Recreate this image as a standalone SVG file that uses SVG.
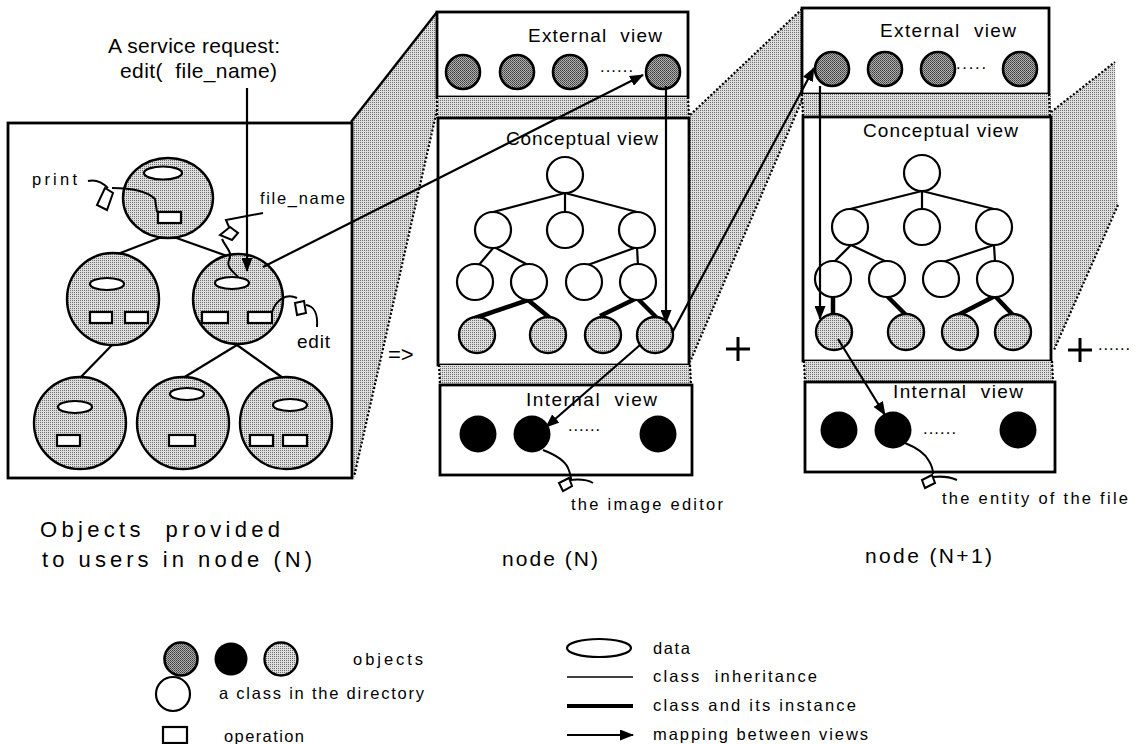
<svg xmlns="http://www.w3.org/2000/svg" width="1138" height="744" viewBox="0 0 1138 744">
  <defs>
    <!-- light halftone used for bands, projections and object fills -->
    <pattern id="stip" patternUnits="userSpaceOnUse" width="2" height="2">
      <rect width="2" height="2" fill="#dedede"/>
      <rect width="1" height="1" fill="#6e6e6e"/>
    </pattern>
    <!-- denser halftone for externally visible objects -->
    <pattern id="stipDark" patternUnits="userSpaceOnUse" width="2" height="2">
      <rect width="2" height="2" fill="#b0b0b0"/>
      <rect width="1" height="1" fill="#3a3a3a"/>
      <rect x="1" y="1" width="1" height="1" fill="#5a5a5a"/>
    </pattern>
    <marker id="ah" markerUnits="userSpaceOnUse" markerWidth="14" markerHeight="11" refX="13" refY="5.5" orient="auto">
      <path d="M0,0 L14,5.5 L0,11 z" fill="#000"/>
    </marker>
    <style>
      text { font-family: "Liberation Sans", Arial, sans-serif; fill: #000; white-space: pre; }
      .box { fill: #fff; stroke: #000; stroke-width: 2.8; }
      .band { fill: url(#stip); stroke: none; }
      .dash { fill: none; stroke: #000; stroke-width: 2.2; stroke-dasharray: 2 2; }
      .cls { fill: #fff; stroke: #000; stroke-width: 2.2; }
      .inst { fill: url(#stip); stroke: #000; stroke-width: 2.4; }
      .ext { fill: url(#stipDark); stroke: #000; stroke-width: 2.6; }
      .int { fill: #000; }
      .inh { fill: none; stroke: #000; stroke-width: 2.2; }
      .thk { fill: none; stroke: #000; stroke-width: 4.5; }
      .map { fill: none; stroke: #000; stroke-width: 2.2; marker-end: url(#ah); }
      .obj { fill: url(#stip); stroke: #000; stroke-width: 2.4; }
      .data { fill: #fff; stroke: #000; stroke-width: 2.2; }
      .op { fill: #fff; stroke: #000; stroke-width: 2.2; }
      .wire { fill: none; stroke: #000; stroke-width: 2; }
      .tag { fill: #fff; stroke: #000; stroke-width: 2; }
      .t15 { font-size: 16.5px; }
      .t17 { font-size: 19px; }
      .t19 { font-size: 21px; }
      .t20 { font-size: 22px; }
    </style>
  </defs>

  <rect width="1138" height="744" fill="#fff"/>

  <!-- projections between the panels -->
  <g id="projections">
    <polygon class="band" points="351,122 437,12 437,110 354,477"/>
    <line x1="351" y1="122" x2="437" y2="12" stroke="#000" stroke-width="2.4"/>
    <line class="dash" x1="437" y1="110" x2="354" y2="477"/>
    <polygon class="band" points="802,9 689,116 690,362 802,100"/>
    <line class="dash" x1="802" y1="9" x2="689" y2="116"/>
    <line class="dash" x1="802" y1="100" x2="690" y2="362"/>
    <polygon class="band" points="1051,112 1115,62 1118,205 1054,350"/>
    <line class="dash" x1="1051" y1="112" x2="1115" y2="62"/>
    <line class="dash" x1="1118" y1="205" x2="1054" y2="350"/>
  </g>

  <!-- objects offered to users in node (N) -->
  <g id="user-objects">
    <rect class="box" x="8" y="123" width="344" height="355"/>
    <g id="user-links">
      <line class="inh" x1="167" y1="235" x2="110" y2="257"/>
      <line class="inh" x1="168" y1="235" x2="230" y2="257"/>
      <line class="inh" x1="112" y1="345" x2="80" y2="378"/>
      <line class="inh" x1="237" y1="345" x2="183" y2="378"/>
      <line class="inh" x1="237" y1="345" x2="283" y2="378"/>
    </g>
    <g id="obj-top">
      <ellipse class="obj" cx="168" cy="198" rx="45" ry="40"/>
      <ellipse class="data" cx="163" cy="173" rx="19" ry="6.5"/>
      <rect class="op" x="158" y="212" width="23" height="11"/>
    </g>
    <g id="obj-mid-left">
      <circle class="obj" cx="113" cy="299" r="46"/>
      <ellipse class="data" cx="107" cy="284" rx="17" ry="6"/>
      <rect class="op" x="90" y="312" width="22" height="11"/>
      <rect class="op" x="125" y="312" width="23" height="11"/>
    </g>
    <g id="obj-mid-right">
      <circle class="obj" cx="238" cy="299" r="45"/>
      <ellipse class="data" cx="232" cy="283" rx="17" ry="6"/>
      <rect class="op" x="202" y="312" width="26" height="11"/>
      <rect class="op" x="248" y="312" width="24" height="11"/>
    </g>
    <g id="obj-bottom-left">
      <circle class="obj" cx="80" cy="423" r="46"/>
      <ellipse class="data" cx="75" cy="407" rx="17" ry="6"/>
      <rect class="op" x="57" y="435" width="23" height="11"/>
    </g>
    <g id="obj-bottom-mid">
      <circle class="obj" cx="183" cy="423" r="46"/>
      <ellipse class="data" cx="187" cy="394" rx="17" ry="6"/>
      <rect class="op" x="169" y="435" width="26" height="11"/>
    </g>
    <g id="obj-bottom-right">
      <circle class="obj" cx="286" cy="423" r="46"/>
      <ellipse class="data" cx="290" cy="405" rx="17" ry="6"/>
      <rect class="op" x="250" y="435" width="23" height="11"/>
      <rect class="op" x="283" y="435" width="24" height="11"/>
    </g>
    <!-- operation / argument handles -->
    <g id="handles">
      <path class="wire" d="M88,181 C96,179 103,183 108,188"/>
      <polygon class="tag" points="105,188 113,193 107,210 97,205"/>
      <path class="wire" d="M112,188 C126,188 146,190 155,199 L157,212"/>
      <text class="t15" x="32" y="185" textLength="45" lengthAdjust="spacing">print</text>

      <path class="wire" d="M263,213 L226,220 L229,227"/>
      <polygon class="tag" points="220,235 230,227 238,233 232,240"/>
      <path class="wire" d="M222,239 C226,248 233,252 229,260 C226,268 234,272 238,277"/>
      <text class="t15" x="260" y="204" textLength="85" lengthAdjust="spacing">file_name</text>

      <path class="wire" d="M272,312 C276,300 286,293 297,298"/>
      <polygon class="tag" points="295,303 304,301 306,313 297,315"/>
      <path class="wire" d="M306,305 C314,306 318,314 317,327"/>
      <text class="t17" x="297" y="348" textLength="33" lengthAdjust="spacing">edit</text>
    </g>
  </g>

  <!-- node (N) -->
  <g id="node-n">
    <g id="node-n-external">
      <rect class="box" x="437" y="12" width="251" height="85"/>
      <text class="t17" x="528" y="42" textLength="134" lengthAdjust="spacing">External  view</text>
      <circle class="ext" cx="463" cy="72" r="17"/>
      <circle class="ext" cx="517" cy="72" r="17"/>
      <circle class="ext" cx="570" cy="72" r="17"/>
      <text class="t15" x="600" y="72" textLength="33" lengthAdjust="spacing">......</text>
      <circle class="ext" cx="663" cy="72" r="17"/>
    </g>
    <rect class="band" x="437" y="97" width="252" height="21"/>
    <line class="dash" x1="437" y1="97" x2="437" y2="118"/>
    <line class="dash" x1="688" y1="97" x2="689" y2="118"/>
    <g id="node-n-conceptual">
      <rect class="box" x="438" y="118" width="251" height="247"/>
      <text class="t17" x="506" y="145" textLength="152" lengthAdjust="spacing">Conceptual view</text>
      <line class="inh" x1="565" y1="193" x2="493" y2="212"/>
      <line class="inh" x1="565" y1="193" x2="565" y2="212"/>
      <line class="inh" x1="565" y1="193" x2="637" y2="212"/>
      <line class="inh" x1="494" y1="247" x2="478" y2="266"/>
      <line class="inh" x1="494" y1="247" x2="530" y2="266"/>
      <line class="inh" x1="637" y1="247" x2="585" y2="266"/>
      <line class="inh" x1="637" y1="247" x2="638" y2="266"/>
      <line class="thk" x1="528" y1="300" x2="475" y2="318"/>
      <line class="thk" x1="528" y1="300" x2="550" y2="318"/>
      <line class="thk" x1="637" y1="298" x2="600" y2="316"/>
      <line class="thk" x1="637" y1="298" x2="657" y2="318"/>
      <circle class="cls" cx="565" cy="175" r="18"/>
      <circle class="cls" cx="493" cy="230" r="18"/>
      <circle class="cls" cx="565" cy="230" r="18"/>
      <circle class="cls" cx="637" cy="230" r="18"/>
      <circle class="cls" cx="475" cy="282" r="18"/>
      <circle class="cls" cx="529" cy="282" r="18"/>
      <circle class="cls" cx="584" cy="282" r="18"/>
      <circle class="cls" cx="638" cy="282" r="18"/>
      <circle class="inst" cx="477" cy="335" r="18"/>
      <circle class="inst" cx="548" cy="335" r="18"/>
      <circle class="inst" cx="603" cy="335" r="18"/>
      <circle class="inst" cx="655" cy="335" r="18"/>
    </g>
    <rect class="band" x="439" y="365" width="252" height="20"/>
    <line class="dash" x1="439" y1="365" x2="440" y2="385"/>
    <line class="dash" x1="690" y1="365" x2="691" y2="385"/>
    <g id="node-n-internal">
      <rect class="box" x="440" y="385" width="252" height="90"/>
      <text class="t17" x="526" y="406" textLength="131" lengthAdjust="spacing">Internal  view</text>
      <circle class="int" cx="478" cy="434" r="18.5"/>
      <circle class="int" cx="532" cy="434" r="18.5"/>
      <text class="t15" x="568" y="431" textLength="32" lengthAdjust="spacing">......</text>
      <circle class="int" cx="658" cy="434" r="18.5"/>
      <path class="wire" d="M543,450 C556,455 565,461 568,468 C570,473 571,476 571,479"/>
      <polygon class="tag" points="559,483 569,478 572,486 563,491"/>
      <path class="wire" d="M570,480 C580,479 588,480 593,483"/>
      <text class="t15" x="571" y="510" textLength="152" lengthAdjust="spacing">the image editor</text>
    </g>
  </g>

  <!-- node (N+1) -->
  <g id="node-n1">
    <g id="node-n1-external">
      <rect class="box" x="802" y="8" width="247" height="86"/>
      <text class="t17" x="880" y="37" textLength="136" lengthAdjust="spacing">External  view</text>
      <circle class="ext" cx="832" cy="69" r="17"/>
      <circle class="ext" cx="885" cy="69" r="17"/>
      <circle class="ext" cx="938" cy="69" r="17"/>
      <text class="t15" x="956" y="69" textLength="30" lengthAdjust="spacing">.....</text>
      <circle class="ext" cx="1020" cy="69" r="17"/>
    </g>
    <rect class="band" x="802" y="94" width="249" height="23"/>
    <line class="dash" x1="802" y1="94" x2="803" y2="117"/>
    <line class="dash" x1="1049" y1="94" x2="1050" y2="117"/>
    <g id="node-n1-conceptual">
      <rect class="box" x="803" y="117" width="248" height="244"/>
      <text class="t17" x="863" y="137" textLength="155" lengthAdjust="spacing">Conceptual view</text>
      <line class="inh" x1="922" y1="191" x2="850" y2="209"/>
      <line class="inh" x1="922" y1="191" x2="922" y2="209"/>
      <line class="inh" x1="922" y1="191" x2="994" y2="209"/>
      <line class="inh" x1="851" y1="245" x2="834" y2="262"/>
      <line class="inh" x1="851" y1="245" x2="887" y2="262"/>
      <line class="inh" x1="994" y1="245" x2="943" y2="262"/>
      <line class="inh" x1="994" y1="245" x2="995" y2="262"/>
      <line class="thk" x1="833" y1="295" x2="833" y2="315"/>
      <line class="thk" x1="886" y1="295" x2="906" y2="315"/>
      <line class="thk" x1="995" y1="296" x2="958" y2="315"/>
      <line class="thk" x1="995" y1="296" x2="1013" y2="315"/>
      <circle class="cls" cx="922" cy="173" r="18"/>
      <circle class="cls" cx="850" cy="227" r="18"/>
      <circle class="cls" cx="922" cy="227" r="18"/>
      <circle class="cls" cx="994" cy="227" r="18"/>
      <circle class="cls" cx="833" cy="279" r="18"/>
      <circle class="cls" cx="887" cy="279" r="18"/>
      <circle class="cls" cx="941" cy="279" r="18"/>
      <circle class="cls" cx="995" cy="279" r="18"/>
      <circle class="inst" cx="834" cy="332" r="18"/>
      <circle class="inst" cx="906" cy="332" r="18"/>
      <circle class="inst" cx="960" cy="332" r="18"/>
      <circle class="inst" cx="1013" cy="332" r="18"/>
    </g>
    <rect class="band" x="804" y="361" width="249" height="21"/>
    <line class="dash" x1="804" y1="361" x2="805" y2="382"/>
    <line class="dash" x1="1052" y1="361" x2="1053" y2="382"/>
    <g id="node-n1-internal">
      <rect class="box" x="805" y="382" width="250" height="90"/>
      <text class="t17" x="893" y="398" textLength="130" lengthAdjust="spacing">Internal  view</text>
      <circle class="int" cx="839" cy="430" r="18.5"/>
      <circle class="int" cx="893" cy="430" r="18.5"/>
      <text class="t15" x="923" y="434" textLength="33" lengthAdjust="spacing">......</text>
      <circle class="int" cx="1018" cy="430" r="18.5"/>
      <path class="wire" d="M905,443 C915,447 925,453 929,461 C932,466 933,470 933,474"/>
      <polygon class="tag" points="922,480 932,475 935,483 925,488"/>
      <path class="wire" d="M933,477 C942,476 950,477 957,480"/>
      <text class="t15" x="942" y="504" textLength="186" lengthAdjust="spacing">the entity of the file</text>
    </g>
  </g>

  <!-- mappings between views -->
  <g id="connectors">
    <line class="map" x1="247" y1="88" x2="247" y2="271"/>
    <line class="map" x1="263" y1="267" x2="643" y2="75"/>
    <line class="map" x1="666" y1="86" x2="666" y2="323"/>
    <line class="map" x1="672" y1="333" x2="814" y2="68"/>
    <line class="map" x1="640" y1="345" x2="546" y2="427"/>
    <line class="map" x1="820" y1="86" x2="820" y2="319"/>
    <line class="map" x1="838" y1="339" x2="885" y2="415"/>
  </g>

  <!-- captions and operators -->
  <g id="captions">
    <text class="t19" x="108" y="53" textLength="172" lengthAdjust="spacing">A service request:</text>
    <text class="t19" x="120" y="78" textLength="157" lengthAdjust="spacing">edit(  file_name)</text>
    <text class="t20" x="388" y="362">=&gt;</text>
    <line x1="726" y1="349" x2="750" y2="349" stroke="#000" stroke-width="3"/>
    <line x1="738" y1="337" x2="738" y2="361" stroke="#000" stroke-width="3"/>
    <line x1="1068" y1="350" x2="1092" y2="350" stroke="#000" stroke-width="3"/>
    <line x1="1080" y1="338" x2="1080" y2="362" stroke="#000" stroke-width="3"/>
    <text class="t15" x="1098" y="350" textLength="32" lengthAdjust="spacing">......</text>
    <text class="t20" x="40" y="537" textLength="240" lengthAdjust="spacing">Objects  provided</text>
    <text class="t20" x="42" y="567" textLength="270" lengthAdjust="spacing">to users in node (N)</text>
    <text class="t19" x="502" y="566" textLength="96" lengthAdjust="spacing">node (N)</text>
    <text class="t19" x="865" y="563" textLength="127" lengthAdjust="spacing">node (N+1)</text>
  </g>

  <!-- legend -->
  <g id="legend">
    <circle class="ext" cx="181" cy="659" r="16.5"/>
    <circle class="int" cx="231" cy="659" r="16.5"/>
    <circle class="inst" cx="281" cy="659" r="16.5"/>
    <text class="t15" x="353" y="665" textLength="70" lengthAdjust="spacing">objects</text>
    <circle class="cls" cx="173" cy="694" r="17"/>
    <text class="t15" x="219" y="699" textLength="205" lengthAdjust="spacing">a class in the directory</text>
    <rect class="op" x="163" y="727" width="24" height="16"/>
    <text class="t15" x="224" y="742" textLength="80" lengthAdjust="spacing">operation</text>
    <ellipse class="data" cx="599" cy="648" rx="32" ry="9"/>
    <text class="t15" x="653" y="654" textLength="37" lengthAdjust="spacing">data</text>
    <line x1="567" y1="677" x2="633" y2="677" stroke="#000" stroke-width="1.6"/>
    <text class="t15" x="653" y="682" textLength="164" lengthAdjust="spacing">class  inheritance</text>
    <line x1="567" y1="706" x2="633" y2="706" stroke="#000" stroke-width="4"/>
    <text class="t15" x="653" y="711" textLength="203" lengthAdjust="spacing">class and its instance</text>
    <line class="map" x1="567" y1="735" x2="633" y2="735"/>
    <text class="t15" x="653" y="740" textLength="215" lengthAdjust="spacing">mapping between views</text>
  </g>
</svg>
